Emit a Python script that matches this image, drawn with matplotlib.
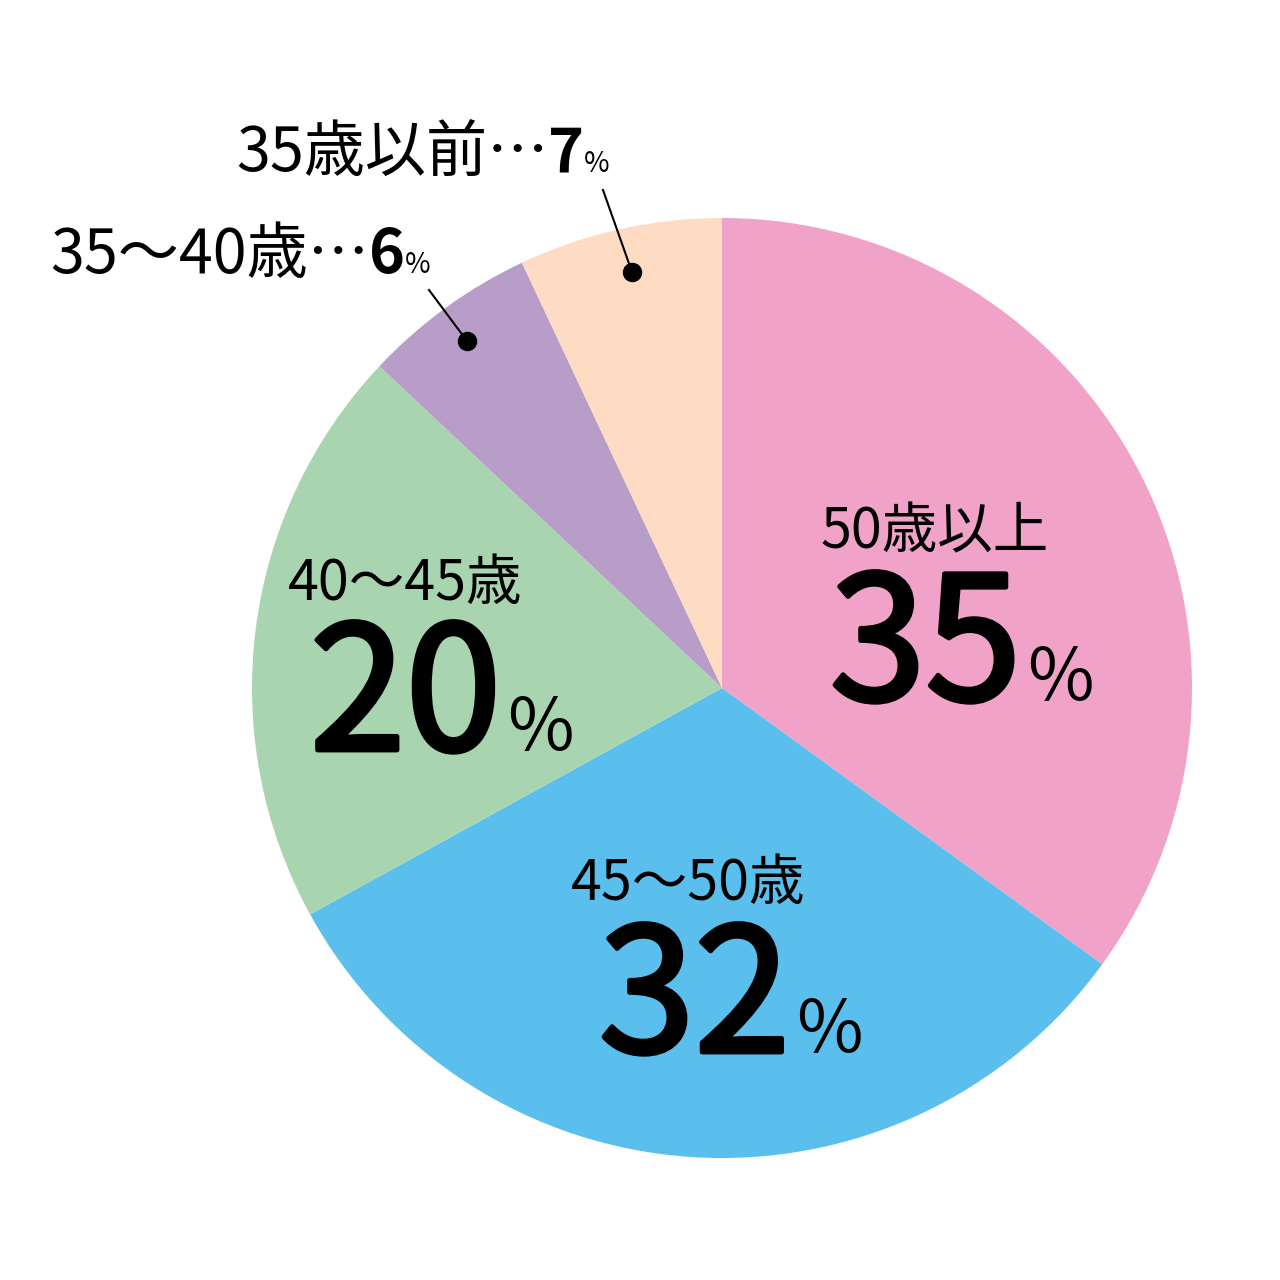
import matplotlib
matplotlib.use("Agg")
import matplotlib.pyplot as plt
import matplotlib.patheffects as pe

plt.rcParams['font.family'] = ['Noto Sans CJK JP', 'DejaVu Sans']

labels = ["50歳以上", "45～50歳", "40～45歳", "35～40歳", "35歳以前"]
values = [35, 32, 20, 6, 7]
colors = ["#F1A2C8", "#5BBFED", "#A8D4AF", "#B89DC9", "#FDDCC3"]

W = H = 1280
DOT = "…"


def Y(p):
    return H - p


fig = plt.figure(figsize=(12.8, 12.8), dpi=100)
ax = fig.add_axes([0, 0, 1, 1])
ax.pie(values, colors=colors, startangle=90, counterclock=False,
       center=(722, Y(688)), radius=470, frame=True)
ax.set_xlim(0, W)
ax.set_ylim(0, H)
ax.set_aspect('equal')
ax.axis('off')

# regular weight plus an outline stroke -> roughly a medium weight
heavy = [pe.withStroke(linewidth=3.5, foreground='black')]


def runs(x, y, parts):
    # draw text pieces one after another on one baseline
    r = fig.canvas.get_renderer()
    for txt, size, weight, fx in parts:
        t = ax.text(x, Y(y), txt, fontsize=size, fontweight=weight,
                    ha='left', va='baseline', color='black', path_effects=fx)
        x += t.get_window_extent(renderer=r).width


# big labels inside the slices
runs(820, 548, [(labels[0], 40, 'normal', None)])
runs(830, 700, [(str(values[0]), 124, 'normal', heavy), (" ", 20, 'normal', None), ("%", 52, 'normal', None)])

runs(571, 900, [(labels[1], 40, 'normal', None)])
runs(599, 1052, [(str(values[1]), 124, 'normal', heavy), (" ", 20, 'normal', None), ("%", 52, 'normal', None)])

runs(288, 600, [(labels[2], 40, 'normal', None)])
runs(310, 750, [(str(values[2]), 124, 'normal', heavy), (" ", 20, 'normal', None), ("%", 52, 'normal', None)])

# small outside labels with leaders
runs(236, 172, [(labels[4] + DOT, 44, 'normal', None), (str(values[4]), 44, 'bold', None), ("%", 20, 'normal', None)])
runs(50, 273, [(labels[3] + DOT, 44, 'normal', None), (str(values[3]), 44, 'bold', None), ("%", 20, 'normal', None)])

ax.plot([603, 632], [Y(190), Y(272)], color='black', lw=1.5)
ax.plot([632], [Y(272)], 'o', color='black', markersize=13)
ax.plot([429, 467], [Y(290), Y(341)], color='black', lw=1.5)
ax.plot([467], [Y(341)], 'o', color='black', markersize=13)

fig.savefig("out.png", dpi=100, facecolor='white')
